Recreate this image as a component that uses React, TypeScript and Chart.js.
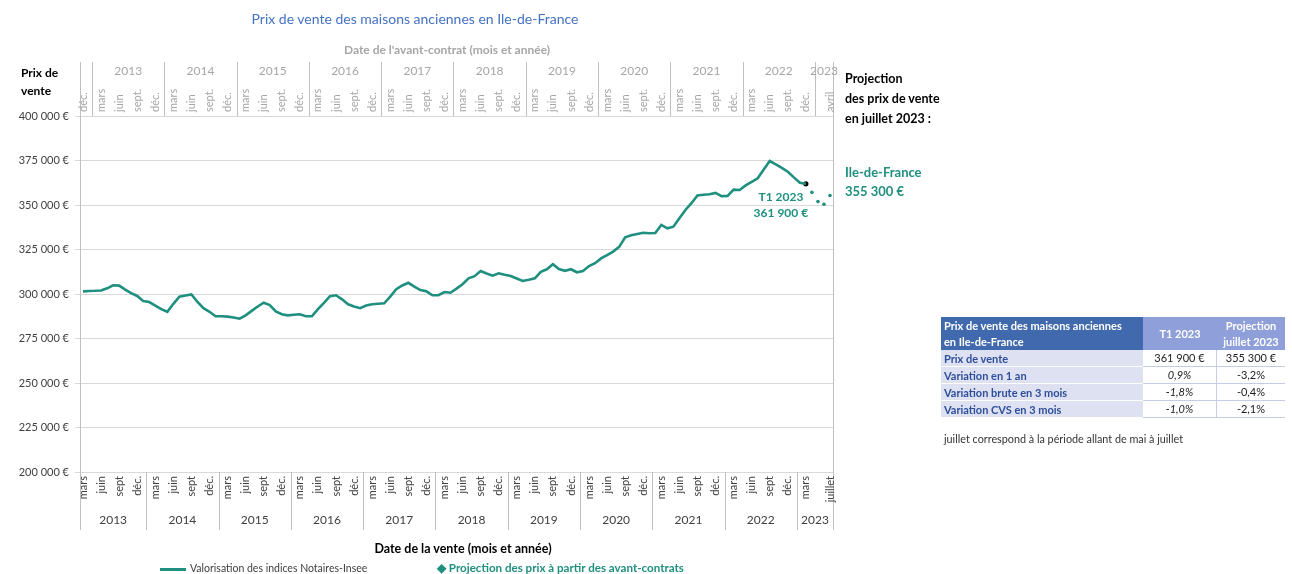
import React, { useEffect, useRef } from 'react';
import { Chart, registerables } from 'chart.js';

Chart.register(...registerables);

const FONT = 'Lato, "Open Sans", sans-serif';
const TEAL = '#1f8f7f';
const GRID = '#d9d9d9';
const AXIS = '#bfbfbf';
const TEXT = '#404040';
const GREY_TXT = '#a6a6a6';

// Sale months: mars 2013 -> juillet 2023 (monthly, rolling 3-month periods)
const START_YEAR = 2013;
const START_MONTH = 3;
const N_CATEGORIES = 125;

const saleMonthLabels: Record<number, string> = { 3: 'mars', 6: 'juin', 9: 'sept', 12: 'déc.' };
const contractMonthLabels: Record<number, string> = { 3: 'déc.', 6: 'mars', 9: 'juin', 12: 'sept.' };
const lastSaleLabel = 'juillet';
const lastContractLabel = 'avril';

// Valorisation des indices Notaires-Insee (mars 2013 -> mars 2023)
const prices = [
  301500, 301700, 301800, 302000, 303200, 304900, 304700, 302500, 300500, 298900,
  296000, 295500, 293500, 291500, 290000, 294500, 298500, 299200, 299800, 295500, 292000, 290000,
  287500, 287500, 287300, 286800, 286100, 288000, 290500, 293000, 295100, 293800, 290200, 288600,
  288000, 288300, 288600, 287500, 287500, 291500, 295000, 298800, 299300, 297000, 294200, 293000,
  292000, 293500, 294200, 294500, 294800, 298500, 302700, 304800, 306300, 304200, 302200, 301500,
  299300, 299300, 301100, 300700, 303000, 305500, 308800, 310000, 312900, 311500, 310300, 311600,
  310800, 310100, 308700, 307300, 308000, 308800, 312500, 313900, 316700, 314000, 313000, 313900,
  312200, 312900, 315700, 317300, 320000, 321900, 323800, 326500, 331800, 333000, 333700, 334400,
  334100, 334300, 338800, 336900, 337800, 342500, 347200, 351000, 355400, 355800, 356000, 356800,
  355000, 355100, 358600, 358400, 361000, 363000, 365000, 370000, 374700, 372800, 370800, 368700,
  365500, 362500, 361900,
];

// Projection à partir des avant-contrats (avril -> juillet 2023)
const projection = [357100, 351900, 350400, 355300];

const yTicksMin = 200000;
const yTicksMax = 400000;
const yStep = 25000;

type Cat = { y: number; m: number };
const categories: Cat[] = [];
for (let i = 0; i < N_CATEGORIES; i++) {
  const t = START_MONTH - 1 + i;
  categories.push({ y: START_YEAR + Math.floor(t / 12), m: (t % 12) + 1 });
}
const labels = categories.map((c) => `${c.m}/${c.y}`);

const fmtEuro = (v: number) => {
  const s = Math.round(v).toString();
  return s.replace(/\B(?=(\d{3})+(?!\d))/g, ' ') + ' €';
};

const axesPlugin = {
  id: 'customAxes',
  afterDraw(chart: any) {
    const ctx = chart.ctx as CanvasRenderingContext2D;
    const xs = chart.scales.x;
    const ys = chart.scales.y;
    const { left, right, top, bottom } = chart.chartArea;
    const px = (i: number) => xs.getPixelForValue(i);
    const step = px(1) - px(0);
    const topLineY = 62;
    const botLineY = 530;

    ctx.save();
    ctx.strokeStyle = AXIS;
    ctx.lineWidth = 1;
    const vline = (x: number, y1: number, y2: number) => {
      ctx.beginPath();
      ctx.moveTo(Math.round(x) + 0.5, y1);
      ctx.lineTo(Math.round(x) + 0.5, y2);
      ctx.stroke();
    };
    vline(left, topLineY, botLineY);
    vline(right, topLineY, botLineY);

    const botSeps: number[] = [left];
    const topSeps: number[] = [left];
    categories.forEach((c, i) => {
      if (c.m === 1) botSeps.push(px(i) + step / 2);
      if (c.m === 4) topSeps.push(px(i) + step / 2);
    });
    botSeps.forEach((x, k) => { if (k > 0) vline(x, bottom, botLineY); });
    topSeps.forEach((x, k) => { if (k > 0) vline(x, topLineY, top); });
    botSeps.push(right);
    topSeps.push(right);

    ctx.fillStyle = TEXT;
    ctx.font = `12px ${FONT}`;
    ctx.textAlign = 'center';
    ctx.textBaseline = 'middle';
    for (let k = 0; k < botSeps.length - 1; k++) {
      ctx.fillText(String(START_YEAR + k), (botSeps[k] + botSeps[k + 1]) / 2, 520);
    }
    ctx.fillStyle = GREY_TXT;
    for (let k = 1; k < topSeps.length - 1; k++) {
      ctx.fillText(String(START_YEAR + k - 1), (topSeps[k] + topSeps[k + 1]) / 2, 71);
    }

    ctx.font = `11px ${FONT}`;
    categories.forEach((c, i) => {
      const isLast = i === categories.length - 1;
      if (i >= prices.length && !isLast) return;
      const sl = isLast ? lastSaleLabel : saleMonthLabels[c.m];
      const tl = isLast ? lastContractLabel : contractMonthLabels[c.m];
      if (!sl) return;
      const x = px(i);
      ctx.save();
      ctx.translate(x, bottom + 4);
      ctx.rotate(-Math.PI / 2);
      ctx.textAlign = 'right';
      ctx.textBaseline = 'middle';
      ctx.fillStyle = TEXT;
      ctx.fillText(sl, 0, 0);
      ctx.restore();
      ctx.save();
      ctx.translate(x, top - 4);
      ctx.rotate(-Math.PI / 2);
      ctx.textAlign = 'left';
      ctx.textBaseline = 'middle';
      ctx.fillStyle = GREY_TXT;
      ctx.fillText(tl, 0, 0);
      ctx.restore();
    });

    const li = prices.length - 1;
    const ax = px(li);
    const ay = ys.getPixelForValue(prices[li]);
    ctx.fillStyle = TEAL;
    ctx.font = `bold 12px ${FONT}`;
    ctx.textAlign = 'center';
    ctx.textBaseline = 'middle';
    ctx.fillText('T1 2023', ax - 25, ay + 13);
    ctx.fillText(fmtEuro(prices[li]), ax - 25, ay + 29);
    ctx.restore();
  },
};

function ChartCanvas() {
  const ref = useRef<HTMLCanvasElement | null>(null);
  useEffect(() => {
    if (!ref.current) return;
    const nObs = prices.length;
    const lineData = labels.map((_, i) => (i < nObs ? prices[i] : null));
    const projData = labels.map((_, i) => (i >= nObs ? projection[i - nObs] : null));
    const markData = labels.map((_, i) => (i === nObs - 1 ? prices[i] : null));
    const chart = new Chart(ref.current, {
      type: 'line',
      data: {
        labels,
        datasets: [
          {
            label: 'Valorisation des indices Notaires-Insee',
            data: lineData,
            borderColor: TEAL,
            borderWidth: 2.6,
            pointRadius: 0,
            tension: 0,
            spanGaps: false,
          },
          {
            label: 'Projection des prix à partir des avant-contrats',
            data: projData,
            showLine: false,
            pointStyle: 'circle',
            pointRadius: 1.8,
            backgroundColor: TEAL,
            borderColor: TEAL,
            borderWidth: 0,
          },
          {
            label: 'T1 2023',
            data: markData,
            showLine: false,
            pointRadius: 2.6,
            backgroundColor: '#000',
            borderColor: '#000',
            borderWidth: 0,
          },
        ],
      },
      options: {
        responsive: false,
        animation: false,
        devicePixelRatio: 1,
        layout: { padding: { left: 8, top: 116, right: 459, bottom: 102 } },
        plugins: { legend: { display: false }, tooltip: { enabled: false }, title: { display: false } },
        scales: {
          x: {
            type: 'category',
            offset: true,
            display: false,
          },
          y: {
            min: yTicksMin,
            max: yTicksMax,
            afterFit: (s: any) => { s.width = 72; },
            ticks: {
              stepSize: yStep,
              padding: 6,
              color: TEXT,
              font: { family: FONT, size: 11 },
              callback: (v: any) => fmtEuro(Number(v)),
            },
            grid: { color: GRID, tickLength: 5, drawTicks: true },
            border: { color: AXIS },
          },
        },
      },
      plugins: [axesPlugin],
    });
    return () => chart.destroy();
  }, []);
  return <canvas ref={ref} width={1292} height={574} style={{ position: 'absolute', left: 0, top: 0, width: 1292, height: 574 }} />;
}

const abs = (l: number, t: number, extra: React.CSSProperties = {}): React.CSSProperties => ({
  position: 'absolute', left: l, top: t, whiteSpace: 'nowrap', fontFamily: FONT, ...extra,
});

const tableRows = [
  { name: 'Prix de vente', t1: '361 900 €', proj: '355 300 €', italic: false },
  { name: 'Variation en 1 an', t1: '0,9%', proj: '-3,2%', italic: true },
  { name: 'Variation brute en 3 mois', t1: '-1,8%', proj: '-0,4%', italic: true },
  { name: 'Variation CVS en 3 mois', t1: '-1,0%', proj: '-2,1%', italic: true },
];

export default function App() {
  const rowH = 17;
  return (
    <div style={{ position: 'absolute', left: 0, top: 0, width: 1292, height: 574, background: '#fff', overflow: 'hidden' }}>
      <ChartCanvas />
      <div style={abs(0, 10, { width: 830, textAlign: 'center', fontSize: 14, color: '#4472c4' })}>
        Prix de vente des maisons anciennes en Ile-de-France
      </div>
      <div style={abs(0, 42, { width: 894, textAlign: 'center', fontSize: 12, fontWeight: 'bold', color: GREY_TXT })}>
        Date de l'avant-contrat (mois et année)
      </div>
      <div style={abs(21, 64, { fontSize: 12, fontWeight: 'bold', color: '#000', lineHeight: '18px' })}>
        Prix de<br />vente
      </div>
      <div style={abs(845, 69, { fontSize: 12.5, fontWeight: 'bold', color: '#000', lineHeight: '20px' })}>
        Projection<br />des prix de vente<br />en juillet 2023 :
      </div>
      <div style={abs(845, 163, { fontSize: 13, fontWeight: 'bold', color: TEAL, lineHeight: '19px' })}>
        Ile-de-France<br />355 300 €
      </div>
      <div style={abs(0, 541, { width: 926, textAlign: 'center', fontSize: 12.5, fontWeight: 'bold', color: '#000' })}>
        Date de la vente (mois et année)
      </div>
      <div style={abs(160, 568, { width: 26, height: 3, background: TEAL })} />
      <div style={abs(190, 562, { fontSize: 10.5, color: TEXT })}>Valorisation des indices Notaires-Insee</div>
      <div style={abs(437, 561, { fontSize: 11.6, fontWeight: 'bold', color: TEAL })}>◆ Projection des prix à partir des avant-contrats</div>

      <div style={abs(941, 317, { width: 344, fontSize: 11 })}>
        <div style={{ display: 'flex', height: 33 }}>
          <div style={{ width: 202, background: '#4169ad', color: '#fff', fontWeight: 'bold', lineHeight: '16px', padding: '1px 3px', boxSizing: 'border-box', whiteSpace: 'normal' }}>
            Prix de vente des maisons anciennes<br />en Ile-de-France
          </div>
          <div style={{ width: 74, background: '#8f9fd9', color: '#fff', fontWeight: 'bold', display: 'flex', alignItems: 'center', justifyContent: 'center' }}>T1 2023</div>
          <div style={{ width: 68, background: '#8f9fd9', color: '#fff', fontWeight: 'bold', textAlign: 'center', lineHeight: '16px', paddingTop: 1, boxSizing: 'border-box' }}>
            Projection<br />juillet 2023
          </div>
        </div>
        {tableRows.map((r, k) => (
          <div key={k} style={{ display: 'flex', height: rowH }}>
            <div style={{ width: 202, background: '#dde1f2', color: '#2f4f9a', fontWeight: 'bold', lineHeight: rowH + 'px', paddingLeft: 3, boxSizing: 'border-box', borderBottom: '1px solid #fff' }}>{r.name}</div>
            <div style={{ width: 74, background: '#fff', color: '#222', textAlign: 'center', lineHeight: rowH - 1 + 'px', fontStyle: r.italic ? 'italic' : 'normal', borderBottom: '1px solid #c5cce8', borderRight: '1px solid #c5cce8', boxSizing: 'border-box' }}>{r.t1}</div>
            <div style={{ width: 68, background: '#fff', color: '#222', textAlign: 'center', lineHeight: rowH - 1 + 'px', borderBottom: '1px solid #c5cce8', boxSizing: 'border-box' }}>{r.proj}</div>
          </div>
        ))}
      </div>
      <div style={abs(944, 432, { fontSize: 10.8, color: '#333' })}>juillet correspond à la période allant de mai à juillet</div>
    </div>
  );
}
